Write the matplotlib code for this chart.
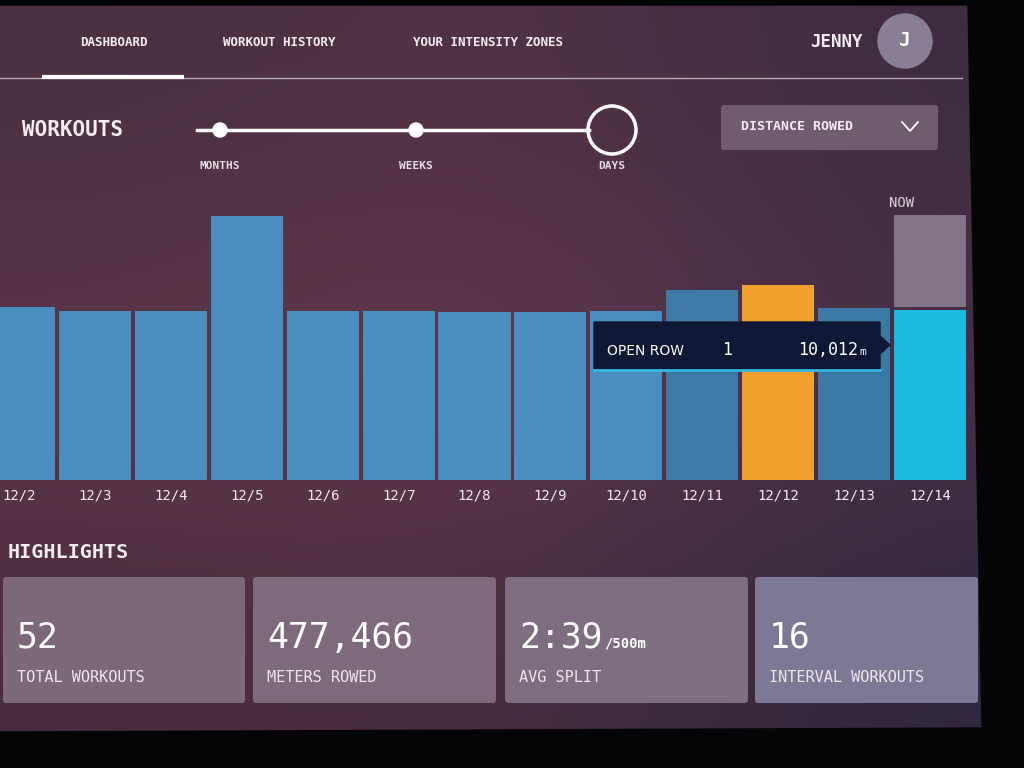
import matplotlib
matplotlib.use("Agg")
import matplotlib.pyplot as plt
import numpy as np
from matplotlib.patches import Rectangle, Circle, FancyBboxPatch, Polygon

# chart data
dates = ["12/2", "12/3", "12/4", "12/5", "12/6", "12/7", "12/8",
         "12/9", "12/10", "12/11", "12/12", "12/13", "12/14"]
meters = [10200, 9950, 9950, 15550, 9950, 9950, 9900,
          9900, 9950, 11190, 11490, 10130, 10012]
now_projection = 15600

tooltip_type = "OPEN ROW"
tooltip_count = "1"
tooltip_meters = "10,012"

nav_items = ["DASHBOARD", "WORKOUT HISTORY", "YOUR INTENSITY ZONES"]
user_name = "JENNY"
slider_labels = ["MONTHS", "WEEKS", "DAYS"]
metric_name = "DISTANCE ROWED"

highlight_values = ["52", "477,466", "2:39", "16"]
highlight_units = ["", "", "/500m", ""]
highlight_labels = ["TOTAL WORKOUTS", "METERS ROWED", "AVG SPLIT", "INTERVAL WORKOUTS"]

mono = "DejaVu Sans Mono"
white = "#f4eef2"

fig = plt.figure(figsize=(10.24, 7.68), dpi=100)

# background (pixel coordinates)
bg = fig.add_axes([0, 0, 1, 1], zorder=0)
bg.set_xlim(0, 1024)
bg.set_ylim(768, 0)
bg.axis("off")

grid = np.array([
    [[0x4a, 0x30, 0x42], [0x54, 0x31, 0x45], [0x3e, 0x2c, 0x42]],
    [[0x60, 0x37, 0x4b], [0x6c, 0x3d, 0x52], [0x48, 0x30, 0x48]],
    [[0x4a, 0x2c, 0x3e], [0x48, 0x2c, 0x3e], [0x2e, 0x26, 0x3e]],
]) / 255.0
bg.imshow(grid, extent=(0, 1024, 768, 0), interpolation="bicubic", aspect="auto")

# screen bezel
bg.add_patch(Polygon([[955, 0], [1024, 0], [1024, 768], [0, 768], [0, 732],
                      [982, 728], [968, 5], [0, 5], [0, 0]],
                     closed=True, color="#050507"))

# top nav
nav_x = [114, 279, 488]
for x, t in zip(nav_x, nav_items):
    bg.text(x, 42, t, color=white, fontsize=9, fontfamily=mono,
            fontweight="bold", ha="center", va="center")
bg.plot([0, 962], [78, 78], color="#b8a8b8", lw=1)
bg.plot([42, 184], [77, 77], color="white", lw=3, solid_capstyle="butt")
bg.text(836, 42, user_name, color=white, fontsize=12.5, fontfamily=mono,
        fontweight="bold", ha="center", va="center")
bg.add_patch(Circle((905, 41), 27, color="#8a7e96"))
bg.text(905, 41, user_name[0], color="white", fontsize=14, fontweight="bold",
        ha="center", va="center", fontfamily=mono)

# workouts header and slider
bg.text(22, 130, "WORKOUTS", color=white, fontsize=15, fontweight="bold",
        fontfamily=mono, va="center")
bg.plot([197, 589], [130, 130], color="white", lw=2.5)
slider_x = [220, 416, 612]
for x in slider_x[:2]:
    bg.add_patch(Circle((x, 130), 7, color="white"))
bg.add_patch(Circle((612, 130), 24, fill=False, ec="white", lw=2.5))
for x, t in zip(slider_x, slider_labels):
    bg.text(x, 166, t, color="#e8dde6", fontsize=8, fontweight="bold",
            fontfamily=mono, ha="center", va="center")

# metric dropdown
bg.add_patch(FancyBboxPatch((721, 105), 217, 45, boxstyle="round,pad=0,rounding_size=3",
                            color="#7a6478", alpha=0.85, lw=0))
bg.text(741, 127, metric_name, color=white, fontsize=9.5, fontweight="bold",
        fontfamily=mono, va="center")
bg.plot([902, 910, 918], [122, 131, 122], color="white", lw=1.3)

bg.text(902, 203, "NOW", color="#ddd2dc", fontsize=10, fontfamily=mono,
        ha="center", va="center")

# highlights
bg.text(8, 553, "HIGHLIGHTS", color=white, fontsize=14.5, fontweight="bold",
        fontfamily=mono, va="center")
card_x = [3, 253, 505, 755]
card_w = [242, 243, 243, 223]
card_col = ["#7c6878", "#7e6a7c", "#7e6c80", "#7c7896"]
for i in range(4):
    bg.add_patch(FancyBboxPatch((card_x[i], 577), card_w[i], 126,
                                boxstyle="round,pad=0,rounding_size=3",
                                color=card_col[i], lw=0))
    t = bg.text(card_x[i] + 14, 638, highlight_values[i], color="white",
                fontsize=25, fontfamily=mono, va="center")
    if highlight_units[i]:
        bg.annotate(highlight_units[i], xycoords=t, xy=(1, 0), xytext=(1, 3),
                    textcoords="offset points", color="white", fontsize=10,
                    fontfamily=mono, fontweight="bold", va="bottom")
    bg.text(card_x[i] + 14, 678, highlight_labels[i], color="#efe6ee",
            fontsize=11, fontfamily=mono, va="center")

# bar chart
ax = fig.add_axes([0, 288 / 768, 968 / 1024, 280 / 768], zorder=1)
ax.patch.set_alpha(0)
x = np.arange(len(dates))
colors = ["#4a8ec0"] * len(dates)
colors[9] = "#3d7ba6"
colors[10] = "#f0a02c"
colors[11] = "#3a7aa4"
colors[12] = "#19badf"
ax.bar(x, meters, width=0.95, color=colors)
ax.bar(x[-1], now_projection - meters[-1] - 200, bottom=meters[-1] + 200,
       width=0.95, color="#84748a")
ax.set_xlim(-0.25, 12.5)
ax.set_ylim(0, 16490)
ax.set_xticks(x)
ax.set_xticklabels(dates, color=white, fontsize=10, fontfamily=mono)
ax.tick_params(axis="x", length=0, pad=6)
ax.set_yticks([])
for s in ax.spines.values():
    s.set_visible(False)

# tooltip overlay
ov = fig.add_axes([0, 0, 1, 1], zorder=2)
ov.patch.set_alpha(0)
ov.set_xlim(0, 1024)
ov.set_ylim(768, 0)
ov.axis("off")
ov.add_patch(Polygon([[594, 322], [880, 322], [880, 336], [890, 345], [880, 354],
                      [880, 370], [594, 370]], closed=True, color="#0e1836"))
ov.plot([594, 880], [370, 370], color="#35b8de", lw=2)
ov.text(607, 351, tooltip_type, color="white", fontsize=10, fontfamily="DejaVu Sans",
        va="center")
ov.text(727, 350, tooltip_count, color="white", fontsize=12, fontfamily=mono,
        ha="center", va="center")
t = ov.text(858, 350, tooltip_meters, color="white", fontsize=12, fontfamily=mono,
            ha="right", va="center")
ov.text(859, 352, "m", color="white", fontsize=8, fontfamily=mono, va="center")

fig.savefig("out.png", dpi=100)
